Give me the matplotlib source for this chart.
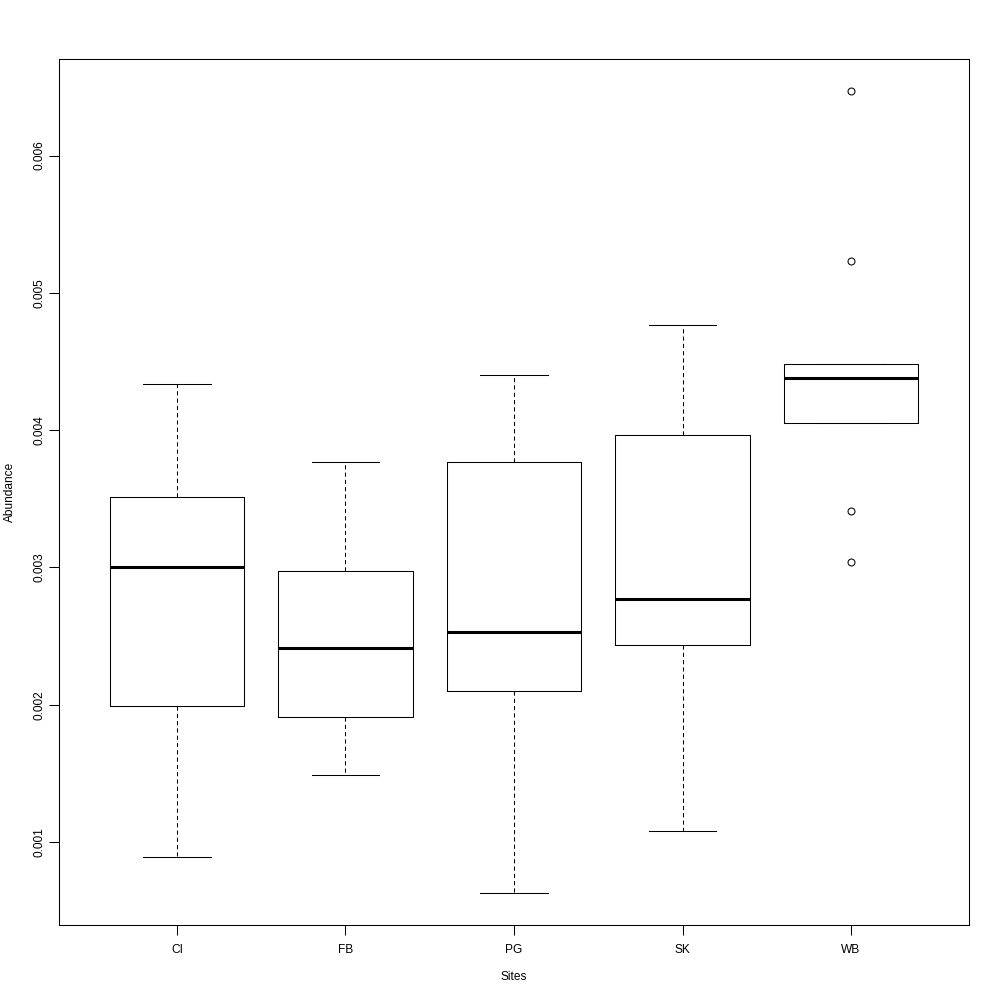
import numpy as np
import matplotlib
matplotlib.use("Agg")
import matplotlib.pyplot as plt

plt.rcParams['font.family'] = ['Liberation Sans', 'DejaVu Sans']

# box statistics
sites = ["CI", "FB", "PG", "SK", "WB"]
whislo = [0.000891, 0.001487, 0.000629, 0.001080, 0.004055]
q1 = [0.001989, 0.001909, 0.002098, 0.002433, 0.004055]
med = [0.003000, 0.002411, 0.002527, 0.002767, 0.004382]
q3 = [0.003509, 0.002971, 0.003771, 0.003967, 0.004484]
whishi = [0.004338, 0.003764, 0.004404, 0.004767, 0.004484]
fliers = [[], [], [], [], [0.006469, 0.005233, 0.003407, 0.003036]]

stats = []
for i, s in enumerate(sites):
    stats.append({"label": s, "whislo": whislo[i], "q1": q1[i], "med": med[i],
                  "q3": q3[i], "whishi": whishi[i], "fliers": fliers[i]})

fig = plt.figure(figsize=(10, 10), dpi=100)
ax = fig.add_axes([0.059, 0.075, 0.910, 0.866])

lw = 0.75
ax.bxp(stats, positions=range(1, 6), widths=0.8, capwidths=0.4,
       boxprops=dict(color="black", linewidth=lw),
       whiskerprops=dict(color="black", linewidth=lw, linestyle=(0, (4, 3))),
       capprops=dict(color="black", linewidth=lw),
       medianprops=dict(color="black", linewidth=2.2),
       flierprops=dict(marker="o", markerfacecolor="none", markeredgecolor="black",
                       markersize=5, markeredgewidth=0.75))

ax.set_xlim(0.3, 5.7)
ax.set_ylim(0.000395, 0.006703)
ax.set_yticks([0.001, 0.002, 0.003, 0.004, 0.005, 0.006])
ax.set_yticklabels(["0.001", "0.002", "0.003", "0.004", "0.005", "0.006"],
                   rotation=90, va="center")
ax.tick_params(axis="both", length=7, width=0.75, labelsize=8.6)
ax.tick_params(axis="y", pad=3)
ax.tick_params(axis="x", pad=7)
for sp in ax.spines.values():
    sp.set_linewidth(0.75)

ax.set_xlabel("Sites", fontsize=8.6, va="center")
ax.set_ylabel("Abundance", fontsize=8.6, va="center")
ax.xaxis.set_label_coords(0.5, -0.060)
ax.yaxis.set_label_coords(-0.054, 0.5)

fig.savefig("out.png", dpi=100)
